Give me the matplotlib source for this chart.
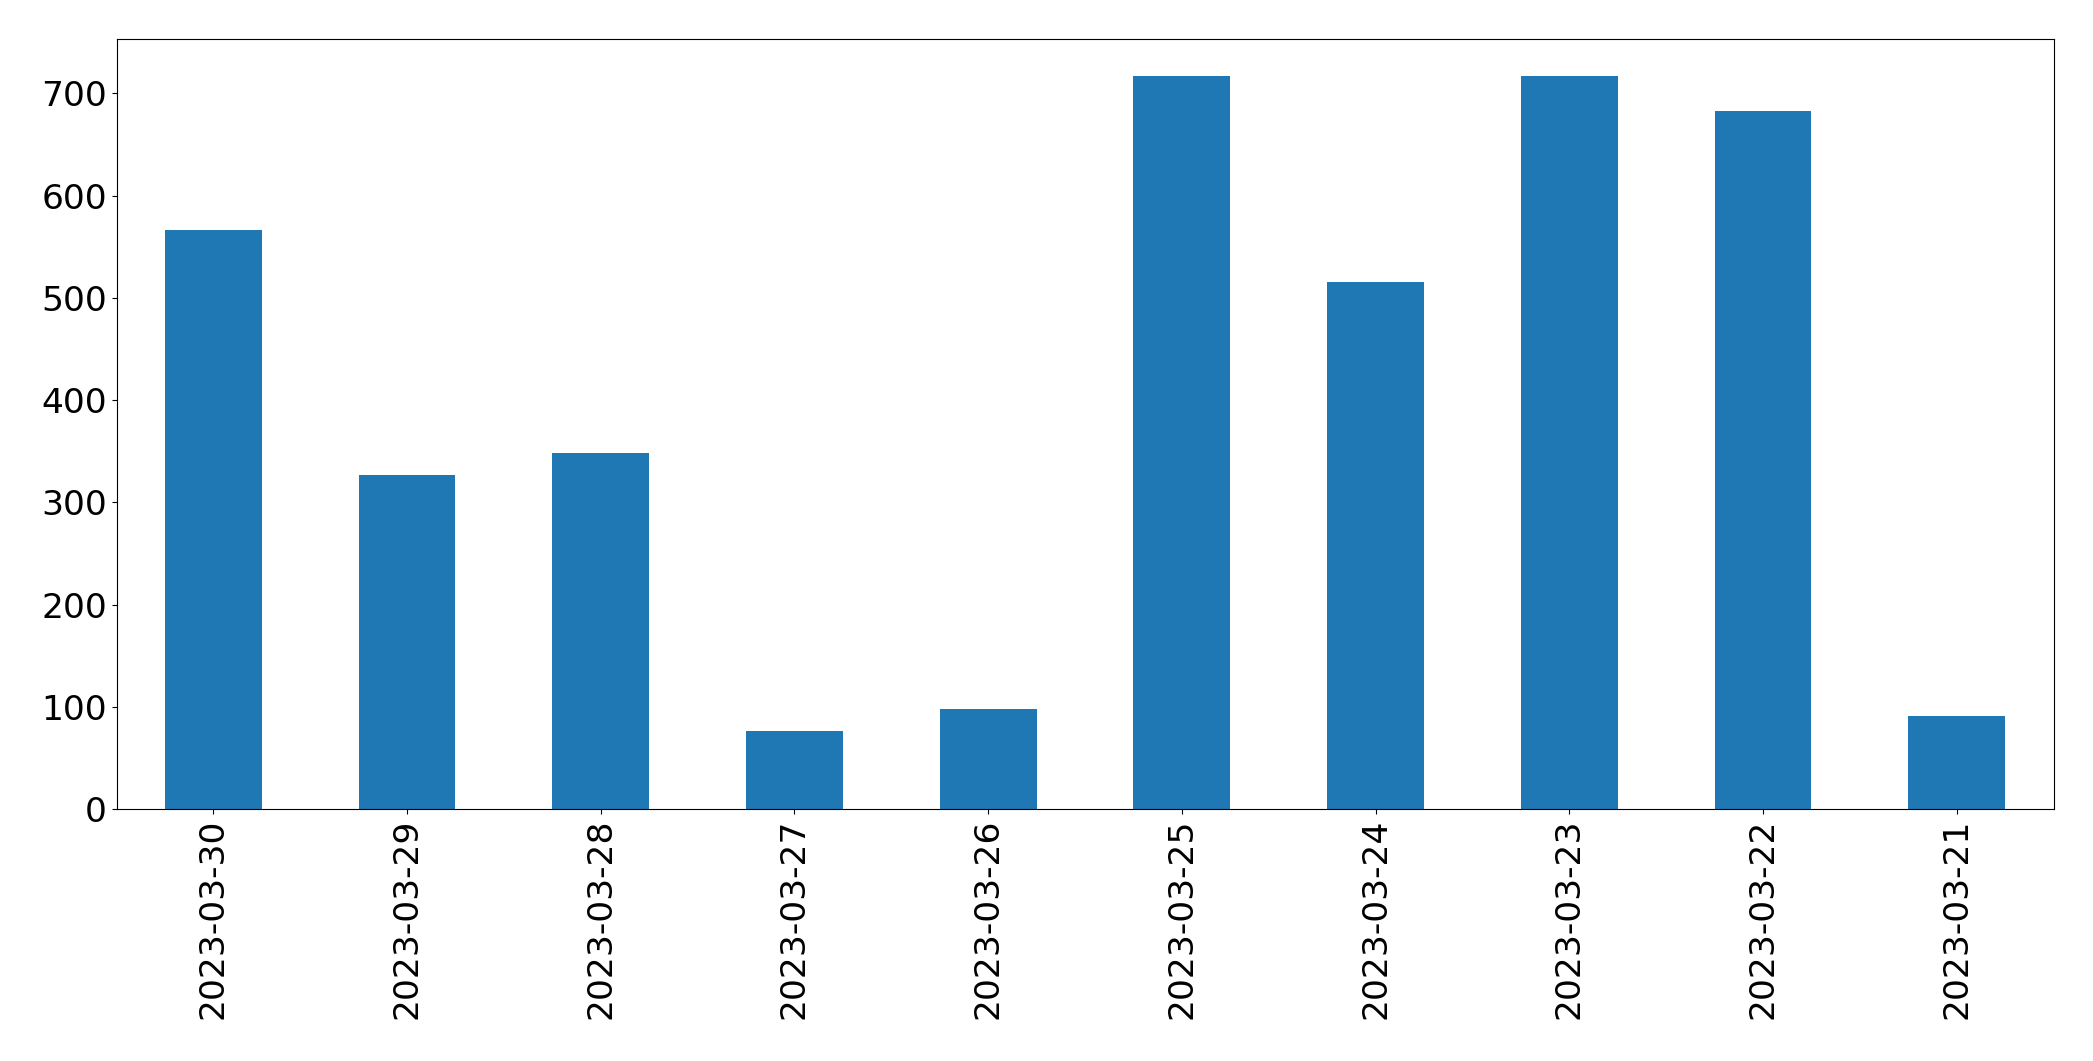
import matplotlib
matplotlib.use("Agg")
import matplotlib.pyplot as plt

dates = ["2023-03-30", "2023-03-29", "2023-03-28", "2023-03-27", "2023-03-26",
         "2023-03-25", "2023-03-24", "2023-03-23", "2023-03-22", "2023-03-21"]
counts = [566, 327, 348, 76, 98, 717, 515, 717, 683, 91]

W, H = 2093, 1061
fig = plt.figure(figsize=(W / 100, H / 100), dpi=100)
ax = fig.add_axes([116.5 / W, 1 - 809 / H, (2053.5 - 116.5) / W, (809 - 39.3) / H])
x = list(range(len(dates)))
ax.bar(x, counts, width=0.5, color="#1f77b4")
ax.set_xlim(-0.5, len(dates) - 0.5)
ax.set_xticks(x)
ax.set_xticklabels(dates, rotation=90, fontsize=24.8)
ax.tick_params(axis="y", labelsize=24.8)
fig.savefig("out.png", dpi=100)
